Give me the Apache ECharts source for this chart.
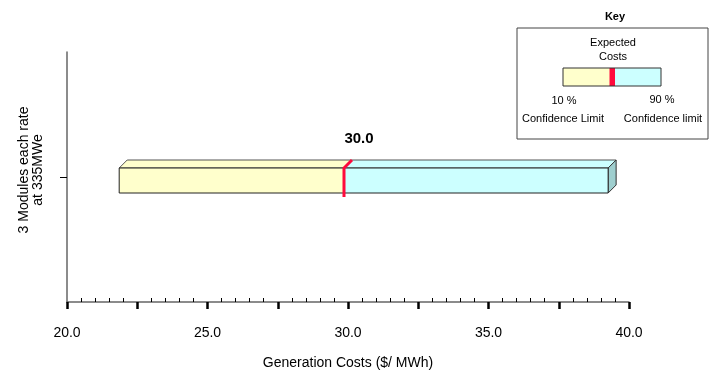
<!DOCTYPE html>
<html>
<head>
<meta charset="utf-8">
<script src="https://cdn.jsdelivr.net/npm/echarts@6/dist/echarts.min.js"></script>
<style>
  html, body { margin: 0; padding: 0; background: #fff; }
  #chart { width: 715px; height: 379px; }
</style>
</head>
<body>
<div id="chart"></div>
<script>
// chart data
var categories = ['3 Modules each rate\nat 335MWe'];
var lowLimit = [22.0];     // 10 % confidence limit
var expected = [30.0];     // expected cost
var highLimit = [39.4];    // 90 % confidence limit
var labelTicks = [20, 25, 30, 35, 40];

var FONT = '"Liberation Sans", Arial, sans-serif';
var YELLOW = '#ffffcc', CYAN = '#ccffff', SIDE = '#9fcfcf', RED = '#ff0a3c';

var chart = echarts.init(document.getElementById('chart'));

var barData = categories.map(function (c, i) {
    return [lowLimit[i], expected[i], highLimit[i], i];
});

// 3D-looking floating bar: 10% -> expected (yellow), expected -> 90% (cyan)
function renderBar(params, api) {
    var pl = api.coord([api.value(0), api.value(3)]);
    var pe = api.coord([api.value(1), api.value(3)]);
    var ph = api.coord([api.value(2), api.value(3)]);
    var cy = pl[1];
    var d = 8;
    var xl = pl[0] - 4, xe = pe[0] - 4, xh = ph[0] - 4;
    var top = cy - 9, bot = cy + 16;
    var edge = { stroke: '#222', lineWidth: 1 };
    function face(pts, fill, stroke) {
        return { type: 'polygon', shape: { points: pts }, style: { fill: fill, stroke: stroke || '#333', lineWidth: 1 } };
    }
    return {
        type: 'group',
        children: [
            face([[xl, top], [xl + d, top - d], [xe + d, top - d], [xe, top]], YELLOW, '#555'),
            face([[xe, top], [xe + d, top - d], [xh + d, top - d], [xh, top]], CYAN, '#555'),
            face([[xh, top], [xh + d, top - d], [xh + d, bot - d], [xh, bot]], SIDE, '#333'),
            { type: 'rect', shape: { x: xl, y: top, width: xe - xl, height: bot - top }, style: Object.assign({ fill: YELLOW }, edge) },
            { type: 'rect', shape: { x: xe, y: top, width: xh - xe, height: bot - top }, style: Object.assign({ fill: CYAN }, edge) },
            { type: 'polyline', shape: { points: [[xe, bot + 4], [xe, top], [xe + d, top - d]] },
              style: { stroke: RED, lineWidth: 3, fill: null } },
            { type: 'text', x: xe + 15, y: cy - 38,
              style: { text: api.value(1).toFixed(1), font: 'bold 15px ' + FONT, fill: '#000', align: 'center', verticalAlign: 'middle' } }
        ]
    };
}

var option = {
    animation: false,
    grid: { left: 67, right: 86, top: 52, bottom: 77 },
    xAxis: [{
        type: 'value',
        min: 20, max: 40, interval: 2.5,
        name: 'Generation Costs ($/ MWh)',
        nameLocation: 'middle',
        nameGap: 54,
        nameTextStyle: { fontFamily: FONT, fontSize: 14, color: '#000' },
        axisLine: { show: true, lineStyle: { color: '#666', width: 1.5 } },
        axisTick: { show: true, length: 7, lineStyle: { color: '#000', width: 2.5 } },
        axisLabel: {
            margin: 24, fontFamily: FONT, fontSize: 14, color: '#000',
            formatter: function (v) { return labelTicks.indexOf(v) >= 0 ? v.toFixed(1) : ''; }
        },
        splitLine: { show: false }
    }, {
        // minor ticks pointing up
        type: 'value',
        min: 20, max: 40, interval: 2.5,
        position: 'bottom',
        axisLine: { show: false },
        axisTick: { show: false, inside: true },
        minorTick: { show: true, splitNumber: 5, length: 4, lineStyle: { color: '#000', width: 1 } },
        axisLabel: { show: false },
        splitLine: { show: false }
    }],
    yAxis: {
        type: 'category',
        data: categories,
        axisLine: { show: true, lineStyle: { color: '#666', width: 1.5 } },
        axisTick: { show: true, alignWithLabel: true, length: 7, lineStyle: { color: '#000' } },
        axisLabel: {
            rotate: 90, margin: 22, fontFamily: FONT, fontSize: 14, color: '#000',
            lineHeight: 14, align: 'center', padding: [0, 0, 0, 14]
        },
        splitLine: { show: false }
    },
    series: [{
        type: 'custom',
        renderItem: renderBar,
        encode: { x: [0, 1, 2], y: 3 },
        data: barData,
        clip: false
    }],
    graphic: [
        { type: 'text', x: 615, y: 17, style: { text: 'Key', font: 'bold 11px ' + FONT, fill: '#000', align: 'center', verticalAlign: 'middle' } },
        { type: 'rect', shape: { x: 517, y: 28, width: 191, height: 111 }, style: { fill: '#fff', stroke: '#444', lineWidth: 1 } },
        { type: 'text', x: 613, y: 43, style: { text: 'Expected', font: '11px ' + FONT, fill: '#000', align: 'center', verticalAlign: 'middle' } },
        { type: 'text', x: 613, y: 57, style: { text: 'Costs', font: '11px ' + FONT, fill: '#000', align: 'center', verticalAlign: 'middle' } },
        { type: 'rect', shape: { x: 563, y: 68, width: 47, height: 18 }, style: { fill: YELLOW, stroke: null } },
        { type: 'rect', shape: { x: 615, y: 68, width: 46, height: 18 }, style: { fill: CYAN, stroke: null } },
        { type: 'rect', shape: { x: 609.5, y: 68, width: 5.5, height: 18 }, style: { fill: RED, stroke: null } },
        { type: 'rect', shape: { x: 563, y: 68, width: 98, height: 18 }, style: { fill: null, stroke: '#333', lineWidth: 1 } },
        { type: 'text', x: 564, y: 101, style: { text: '10 %', font: '11px ' + FONT, fill: '#000', align: 'center', verticalAlign: 'middle' } },
        { type: 'text', x: 662, y: 100, style: { text: '90 %', font: '11px ' + FONT, fill: '#000', align: 'center', verticalAlign: 'middle' } },
        { type: 'text', x: 563, y: 119, style: { text: 'Confidence Limit', font: '11px ' + FONT, fill: '#000', align: 'center', verticalAlign: 'middle' } },
        { type: 'text', x: 663, y: 119, style: { text: 'Confidence limit', font: '11px ' + FONT, fill: '#000', align: 'center', verticalAlign: 'middle' } }
    ]
};

chart.setOption(option);
</script>
</body>
</html>
